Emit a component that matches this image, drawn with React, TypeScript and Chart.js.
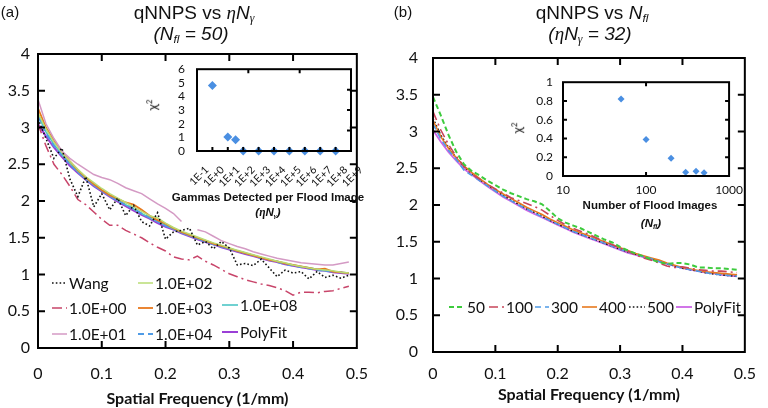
import React, { useEffect, useRef } from "react";
import { Chart, registerables } from "chart.js";
Chart.register(...registerables);

// ---------- data ----------
const freq = [0, 0.0125, 0.025, 0.0375, 0.05, 0.0625, 0.075, 0.0875, 0.1, 0.1125,
  0.125, 0.1375, 0.15, 0.1625, 0.175, 0.1875, 0.2, 0.2125, 0.225, 0.2375,
  0.25, 0.2625, 0.275, 0.2875, 0.3, 0.3125, 0.325, 0.3375, 0.35, 0.3625,
  0.375, 0.3875, 0.4, 0.4125, 0.425, 0.4375, 0.45, 0.4625, 0.475, 0.4875];

// panel (a)
const wang = [3.12, 2.85, 2.58, 2.72, 2.30, 2.06, 2.33, 1.92, 2.10, 1.88,
  2.04, 1.80, 1.94, 1.72, 1.66, 1.84, 1.48, 1.58, 1.60, 1.63,
  1.40, 1.45, 1.35, 1.45, 1.36, 1.13, 1.15, 1.12, 1.21, 1.09,
  0.97, 1.06, 1.02, 1.04, 0.94, 1.04, 0.96, 0.99, 0.95, 0.99];
const g1e0 = [3.05, 2.75, 2.50, 2.36, 2.20, 2.02, 1.95, 1.85, 1.75, 1.67,
  1.67, 1.60, 1.55, 1.50, 1.43, 1.37, 1.32, 1.24, 1.21, 1.20,
  1.25, 1.18, 1.13, 1.07, 1.01, 0.97, 0.93, 0.90, 0.87, 0.85,
  0.82, 0.78, 0.72, 0.76, 0.76, 0.75, 0.77, 0.78, 0.81, 0.84];
const g1e1 = [3.38, 3.05, 2.85, 2.68, 2.58, 2.50, 2.43, 2.36, 2.32, 2.29,
  2.24, 2.18, 2.14, 2.10, 2.03, 1.96, 1.90, 1.83, 1.72, null,
  1.61, 1.58, 1.52, 1.46, 1.42, 1.38, 1.35, 1.31, 1.28, 1.25,
  1.22, 1.20, 1.18, 1.16, 1.15, 1.14, 1.13, 1.13, 1.15, 1.17];
const g1e2 = [3.20, 2.98, 2.80, 2.66, 2.54, 2.43, 2.33, 2.25, 2.17, 2.10,
  2.04, 1.98, 1.92, 1.86, 1.80, 1.77, 1.70, 1.64, 1.59, 1.55,
  1.51, 1.47, 1.43, 1.40, 1.36, 1.33, 1.30, 1.27, 1.24, 1.21,
  1.18, 1.16, 1.13, 1.11, 1.09, 1.07, 1.06, 1.05, 1.03, 1.02];
const g1e3 = [3.26, 3.00, 2.82, 2.67, 2.54, 2.42, 2.32, 2.23, 2.15, 2.08,
  2.03, 1.98, 1.95, 1.88, 1.80, 1.74, 1.69, 1.63, 1.58, 1.54,
  1.50, 1.46, 1.42, 1.39, 1.36, 1.32, 1.29, 1.26, 1.23, 1.20,
  1.18, 1.15, 1.13, 1.11, 1.09, 1.07, 1.08, 1.04, 1.03, 1.02];
const g1e4 = [3.15, 2.92, 2.75, 2.62, 2.50, 2.39, 2.30, 2.21, 2.14, 2.07,
  2.00, 1.95, 1.90, 1.83, 1.78, 1.72, 1.66, 1.62, 1.57, 1.53,
  1.49, 1.45, 1.41, 1.38, 1.35, 1.32, 1.29, 1.26, 1.22, 1.20,
  1.17, 1.14, 1.12, 1.10, 1.08, 1.06, 1.05, 1.04, 1.03, 1.02];
const g1e8 = [3.17, 2.94, 2.77, 2.63, 2.51, 2.40, 2.30, 2.22, 2.14, 2.07,
  2.01, 1.95, 1.89, 1.83, 1.77, 1.72, 1.67, 1.62, 1.57, 1.53,
  1.49, 1.45, 1.42, 1.38, 1.35, 1.32, 1.29, 1.26, 1.23, 1.20,
  1.18, 1.15, 1.13, 1.11, 1.09, 1.07, 1.05, 1.04, 1.03, 1.02];
const polyA = [3.05, 2.88, 2.73, 2.60, 2.48, 2.38, 2.29, 2.20, 2.13, 2.06,
  1.99, 1.93, 1.87, 1.81, 1.76, 1.70, 1.65, 1.61, 1.56, 1.52,
  1.48, 1.44, 1.41, 1.37, 1.34, 1.31, 1.28, 1.25, 1.22, 1.19,
  1.17, 1.14, 1.12, 1.10, 1.08, 1.06, 1.05, 1.03, 1.02, 1.01];

// panel (b)
const n50 = [3.47, 3.22, 2.95, 2.72, 2.55, 2.46, 2.40, 2.33, 2.27, 2.21,
  2.16, 2.12, 2.08, 2.05, 2.01, 1.92, 1.82, 1.76, 1.72, 1.68,
  1.63, 1.58, 1.53, 1.49, 1.43, 1.38, 1.34, 1.30, 1.26, 1.22,
  1.20, 1.21, 1.21, 1.19, 1.15, 1.15, 1.14, 1.14, 1.13, 1.12];
const n100 = [3.27, 3.02, 2.82, 2.66, 2.52, 2.42, 2.35, 2.28, 2.22, 2.16,
  2.10, 2.06, 2.02, 1.98, 1.93, 1.86, 1.79, 1.73, 1.68, 1.64,
  1.60, 1.55, 1.50, 1.46, 1.41, 1.37, 1.32, 1.28, 1.25, 1.21,
  1.17, 1.15, 1.16, 1.14, 1.12, 1.11, 1.10, 1.10, 1.09, 1.08];
const n300 = [3.10, 2.90, 2.74, 2.62, 2.47, 2.40, 2.33, 2.26, 2.19, 2.12,
  2.06, 2.00, 1.95, 1.89, 1.84, 1.79, 1.74, 1.69, 1.64, 1.60,
  1.56, 1.52, 1.48, 1.44, 1.40, 1.36, 1.33, 1.30, 1.27, 1.23,
  1.20, 1.17, 1.14, 1.12, 1.10, 1.08, 1.06, 1.05, 1.04, 1.03];
const n400 = [3.15, 2.93, 2.77, 2.64, 2.53, 2.44, 2.36, 2.28, 2.21, 2.15,
  2.09, 2.03, 1.97, 1.92, 1.87, 1.81, 1.76, 1.71, 1.66, 1.62,
  1.58, 1.54, 1.50, 1.46, 1.42, 1.38, 1.34, 1.31, 1.28, 1.25,
  1.21, 1.18, 1.15, 1.13, 1.11, 1.09, 1.08, 1.07, 1.06, 1.05];
const n500 = [3.18, 2.95, 2.78, 2.64, 2.52, 2.43, 2.35, 2.27, 2.20, 2.13,
  2.07, 2.01, 1.95, 1.90, 1.85, 1.79, 1.74, 1.69, 1.64, 1.60,
  1.56, 1.52, 1.48, 1.44, 1.40, 1.36, 1.33, 1.30, 1.27, 1.24,
  1.20, 1.17, 1.14, 1.12, 1.10, 1.08, 1.06, 1.05, 1.04, 1.03];
const polyB = [3.02, 2.86, 2.72, 2.60, 2.49, 2.41, 2.33, 2.25, 2.18, 2.11,
  2.05, 1.99, 1.93, 1.88, 1.83, 1.78, 1.73, 1.68, 1.63, 1.59,
  1.55, 1.51, 1.47, 1.43, 1.39, 1.35, 1.32, 1.29, 1.26, 1.23,
  1.20, 1.17, 1.14, 1.12, 1.10, 1.08, 1.07, 1.05, 1.04, 1.03];

// inset (a): chi^2 vs gammas per flood image
const gammaCounts = [1, 10, 32, 100, 1e3, 1e4, 1e5, 1e6, 1e7, 1e8];
const gammaChi2 = [4.8, 1.02, 0.82, 0, 0, 0, 0, 0, 0, 0];
const gammaTickValues = [0.1, 1, 10, 100, 1e3, 1e4, 1e5, 1e6, 1e7, 1e8, 1e9];
const gammaTickLabels = ["1E-1", "1E+0", "1E+1", "1E+2", "1E+3", "1E+4", "1E+5", "1E+6", "1E+7", "1E+8", "1E+9"];
const chi2TicksA = [0, 1, 2, 3, 4, 5, 6];

// inset (b): chi^2 vs number of flood images
const floodCounts = [50, 100, 200, 300, 400, 500];
const floodChi2 = [0.82, 0.39, 0.19, 0.04, 0.05, 0.035];
const floodTickValues = [10, 100, 1000];
const chi2TicksB = [0, 0.2, 0.4, 0.6, 0.8, 1];

// ---------- styling ----------
const TF = "Lato, 'Open Sans', sans-serif";
const ARIAL = "'Liberation Sans', Arial, sans-serif";
const SERIF = "'Liberation Serif', 'DejaVu Serif', serif";
const INK = "#111111";

const pts = (ys: (number | null)[]) => freq.map((x, i) => ({ x, y: ys[i] }));
const fmt = (v: number) => String(Number(Number(v).toFixed(1)));

type Side = { vals?: number[]; fracs?: number[] };
type FrameCfg = { lw: number; len: number; bottom?: Side; top?: Side; left?: Side; right?: Side };

function framePlugin(cfg: FrameCfg) {
  return {
    id: "frame",
    afterDatasetsDraw(chart: any) {
      const { ctx, chartArea: a, scales } = chart;
      const xs = scales.x, ys = scales.y;
      const xPos = (s?: Side) => s ? [
        ...(s.vals || []).map((v) => xs.getPixelForValue(v)),
        ...(s.fracs || []).map((f) => a.left + f * (a.right - a.left)),
      ] : [];
      const yPos = (s?: Side) => s ? [
        ...(s.vals || []).map((v) => ys.getPixelForValue(v)),
        ...(s.fracs || []).map((f) => a.bottom - f * (a.bottom - a.top)),
      ] : [];
      ctx.save();
      ctx.strokeStyle = "#000";
      ctx.lineWidth = cfg.lw;
      ctx.setLineDash([]);
      ctx.strokeRect(a.left, a.top, a.right - a.left, a.bottom - a.top);
      ctx.beginPath();
      for (const x of xPos(cfg.bottom)) { ctx.moveTo(x, a.bottom); ctx.lineTo(x, a.bottom - cfg.len); }
      for (const x of xPos(cfg.top)) { ctx.moveTo(x, a.top); ctx.lineTo(x, a.top + cfg.len); }
      for (const y of yPos(cfg.left)) { ctx.moveTo(a.left, y); ctx.lineTo(a.left + cfg.len, y); }
      for (const y of yPos(cfg.right)) { ctx.moveTo(a.right, y); ctx.lineTo(a.right - cfg.len, y); }
      ctx.stroke();
      ctx.restore();
    },
  };
}

// rotated (-45 deg) labels under a log axis
function rotatedLabelsPlugin(values: number[], labels: string[], dx: number, dy: number, font: string) {
  return {
    id: "rotLabels",
    afterDraw(chart: any) {
      const { ctx, chartArea: a, scales } = chart;
      ctx.save();
      ctx.font = font;
      ctx.fillStyle = INK;
      ctx.textAlign = "right";
      ctx.textBaseline = "middle";
      values.forEach((v, i) => {
        const px = scales.x.getPixelForValue(v);
        ctx.save();
        ctx.translate(px + dx, a.bottom + dy);
        ctx.rotate(-Math.PI / 4);
        ctx.fillText(labels[i], 0, 0);
        ctx.restore();
      });
      ctx.restore();
    },
  };
}

type LegendItem = { ds: number; x: number; y: number; len: number };
function legendPlugin(items: LegendItem[]) {
  return {
    id: "customLegend",
    afterDraw(chart: any) {
      const ctx = chart.ctx;
      ctx.save();
      for (const it of items) {
        const ds = chart.data.datasets[it.ds];
        ctx.strokeStyle = ds.borderColor;
        ctx.lineWidth = ds.borderWidth;
        ctx.setLineDash(ds.borderDash || []);
        ctx.beginPath();
        ctx.moveTo(it.x, it.y);
        ctx.lineTo(it.x + it.len, it.y);
        ctx.stroke();
        ctx.setLineDash([]);
        ctx.fillStyle = INK;
        ctx.font = `15.5px ${TF}`;
        ctx.textBaseline = "middle";
        ctx.textAlign = "left";
        ctx.fillText(ds.label, it.x + it.len + 2, it.y + 1);
      }
      ctx.restore();
    },
  };
}

function line(label: string, ys: (number | null)[], color: string, width: number, dash: number[] = []) {
  return {
    label, data: pts(ys), borderColor: color, backgroundColor: color, borderWidth: width,
    borderDash: dash, pointRadius: 0, fill: false, spanGaps: false, tension: 0,
  };
}

function mainConfig(datasets: any[], o: {
  yw: number; xh: number; padTop: number; padRight: number; yPad: number; xPad: number; titlePad: number; legend: LegendItem[];
}) {
  return {
    type: "line",
    data: { datasets },
    options: {
      animation: false, responsive: false, devicePixelRatio: 1,
      layout: { padding: { top: o.padTop, right: o.padRight, left: 0, bottom: 0 } },
      plugins: { legend: { display: false }, tooltip: { enabled: false }, title: { display: false } },
      scales: {
        x: {
          type: "linear", min: 0, max: 0.5,
          grid: { display: false, drawTicks: false }, border: { display: false },
          ticks: { stepSize: 0.1, padding: o.xPad, color: INK, maxRotation: 0, font: { family: TF, size: 16 }, callback: (v: number) => fmt(v) },
          title: { display: true, text: "Spatial Frequency (1/mm)", color: INK, font: { family: TF, size: 16, weight: "bold" }, padding: { top: 0, bottom: o.titlePad } },
          afterFit: (s: any) => { s.height = o.xh; },
        },
        y: {
          min: 0, max: 4,
          grid: { display: false, drawTicks: false }, border: { display: false },
          ticks: { stepSize: 0.5, padding: o.yPad, color: INK, font: { family: TF, size: 16 }, callback: (v: number) => fmt(v) },
          afterFit: (s: any) => { s.width = o.yw; },
        },
      },
    },
    plugins: [
      framePlugin({ lw: 2, len: 7, bottom: { vals: [0.1, 0.2, 0.3, 0.4] }, top: { vals: [0.1, 0.2, 0.3, 0.4] }, left: { vals: [0.5, 1, 1.5, 2, 2.5, 3, 3.5] }, right: { vals: [0.5, 1, 1.5, 2, 2.5, 3, 3.5] } }),
      legendPlugin(o.legend),
    ],
  };
}

function cfgA() {
  const ds = [
    line("Wang", wang, "#111111", 1.6, [1.6, 2.2]),
    line("1.0E+00", g1e0, "#C8456A", 1.5, [10, 4, 2, 4]),
    line("1.0E+01", g1e1, "#D49AC4", 1.5),
    line("1.0E+02", g1e2, "#B9DC74", 1.5),
    line("1.0E+03", g1e3, "#E8791E", 1.8),
    line("1.0E+04", g1e4, "#4F9BE6", 1.8, [6, 4]),
    line("1.0E+08", g1e8, "#4CC6C6", 1.6),
    line("PolyFit", polyA, "#9A3FD6", 2),
  ];
  return mainConfig(ds, {
    yw: 38, xh: 60, padTop: 54, padRight: 11, yPad: 8, xPad: 16, titlePad: 0,
    legend: [
      { ds: 0, x: 52, y: 283, len: 15 },
      { ds: 1, x: 52, y: 308, len: 15 },
      { ds: 2, x: 52, y: 334, len: 15 },
      { ds: 3, x: 138, y: 283, len: 15 },
      { ds: 4, x: 138, y: 308, len: 15 },
      { ds: 5, x: 138, y: 334, len: 15 },
      { ds: 6, x: 222, y: 305, len: 16 },
      { ds: 7, x: 222, y: 332, len: 16 },
    ],
  });
}

function cfgB() {
  const ds = [
    line("50", n50, "#3DCB3D", 2, [5, 3]),
    line("100", n100, "#C8455A", 1.6, [9, 4, 2, 4]),
    line("300", n300, "#4F9BE6", 1.6, [6, 4]),
    line("400", n400, "#E8791E", 1.6),
    line("500", n500, "#111111", 1.6, [1.6, 2.2]),
    line("PolyFit", polyB, "#CC66E6", 1.8),
  ];
  return mainConfig(ds, {
    yw: 49, xh: 56, padTop: 58, padRight: 11, yPad: 15, xPad: 12, titlePad: 4,
    legend: [
      { ds: 0, x: 449 - 384, y: 307, len: 16 },
      { ds: 1, x: 489 - 384, y: 307, len: 15 },
      { ds: 2, x: 535 - 384, y: 307, len: 14 },
      { ds: 3, x: 582 - 384, y: 307, len: 15 },
      { ds: 4, x: 629 - 384, y: 307, len: 16 },
      { ds: 5, x: 676 - 384, y: 307, len: 16 },
    ],
  });
}

function insetCommon() {
  return {
    animation: false, responsive: false, devicePixelRatio: 1,
    plugins: { legend: { display: false }, tooltip: { enabled: false }, title: { display: false } },
  };
}

function cfgInsetA() {
  return {
    type: "scatter",
    data: {
      datasets: [{
        data: gammaCounts.map((x, i) => ({ x, y: gammaChi2[i] })),
        pointStyle: "rectRot", pointRadius: 4.5, backgroundColor: "#4A8FE2", borderColor: "#4A8FE2", borderWidth: 0, clip: false,
      }],
    },
    options: {
      ...insetCommon(),
      layout: { padding: { top: 11, right: 19, left: 0, bottom: 0 } },
      scales: {
        x: {
          type: "logarithmic", min: 0.1, max: 1e9,
          afterBuildTicks: (s: any) => { s.ticks = gammaTickValues.map((v) => ({ value: v })); },
          grid: { display: false, drawTicks: false }, border: { display: false },
          ticks: { display: false },
          afterFit: (s: any) => { s.height = 49; },
        },
        y: {
          min: 0, max: 6,
          afterBuildTicks: (s: any) => { s.ticks = chi2TicksA.map((v) => ({ value: v })); },
          grid: { display: false, drawTicks: false }, border: { display: false },
          ticks: { autoSkip: false, padding: 12, color: INK, font: { family: TF, size: 12 } },
          afterFit: (s: any) => { s.width = 47; },
        },
      },
    },
    plugins: [
      framePlugin({ lw: 2, len: 4, bottom: { vals: gammaTickValues }, top: { fracs: [1 / 3, 2 / 3] }, right: { fracs: [0.25, 0.5, 0.75] } }),
      rotatedLabelsPlugin(gammaTickValues, gammaTickLabels, 10, 17, `10.5px ${TF}`),
    ],
  };
}

function cfgInsetB() {
  return {
    type: "scatter",
    data: {
      datasets: [{
        data: floodCounts.map((x, i) => ({ x, y: floodChi2[i] })),
        pointStyle: "rectRot", pointRadius: 3.5, backgroundColor: "#4A8FE2", borderColor: "#4A8FE2", borderWidth: 0, clip: false,
      }],
    },
    options: {
      ...insetCommon(),
      layout: { padding: { top: 10, right: 15, left: 0, bottom: 0 } },
      scales: {
        x: {
          type: "logarithmic", min: 10, max: 1000,
          afterBuildTicks: (s: any) => { s.ticks = floodTickValues.map((v) => ({ value: v })); },
          grid: { display: false, drawTicks: false }, border: { display: false },
          ticks: { autoSkip: false, maxRotation: 0, padding: 7, color: INK, font: { family: TF, size: 12 }, callback: (v: any) => String(v) },
          afterFit: (s: any) => { s.height = 24; },
        },
        y: {
          min: 0, max: 1,
          afterBuildTicks: (s: any) => { s.ticks = chi2TicksB.map((v) => ({ value: v })); },
          grid: { display: false, drawTicks: false }, border: { display: false },
          ticks: { autoSkip: false, padding: 10, color: INK, font: { family: TF, size: 12 }, callback: (v: number) => fmt(v) },
          afterFit: (s: any) => { s.width = 43; },
        },
      },
    },
    plugins: [framePlugin({ lw: 2, len: 4, left: { vals: [0.2, 0.4, 0.6, 0.8] }, right: { vals: [0.2, 0.4, 0.6, 0.8] }, bottom: { vals: [100] }, top: { vals: [100] } })],
  };
}

// ---------- text helpers ----------
const Sub = ({ children }: { children: any }) => (
  <span style={{ fontSize: "0.62em", position: "relative", top: "0.32em" }}>{children}</span>
);

function Txt({ cx, cy, size, children, style }: { cx: number; cy: number; size: number; children: any; style?: any }) {
  return (
    <div style={{
      position: "absolute", left: cx - 200, width: 400, top: cy - size * 0.6, height: size * 1.2,
      lineHeight: `${size * 1.2}px`, fontSize: size, textAlign: "center", whiteSpace: "nowrap", color: INK, ...style,
    }}>{children}</div>
  );
}

export default function App() {
  const rA = useRef<HTMLCanvasElement>(null);
  const rB = useRef<HTMLCanvasElement>(null);
  const rIA = useRef<HTMLCanvasElement>(null);
  const rIB = useRef<HTMLCanvasElement>(null);

  useEffect(() => {
    const charts = [
      new Chart(rA.current as HTMLCanvasElement, cfgA() as any),
      new Chart(rB.current as HTMLCanvasElement, cfgB() as any),
      new Chart(rIA.current as HTMLCanvasElement, cfgInsetA() as any),
      new Chart(rIB.current as HTMLCanvasElement, cfgInsetB() as any),
    ];
    return () => charts.forEach((c) => c.destroy());
  }, []);

  const abs = (l: number, t: number) => ({ position: "absolute" as const, left: l, top: t });

  return (
    <div style={{ position: "fixed", left: 0, top: 0, width: 768, height: 408, background: "#fff", overflow: "hidden", fontFamily: ARIAL }}>
      <canvas ref={rA} width={384} height={408} style={abs(0, 0)} />
      <canvas ref={rB} width={384} height={408} style={abs(384, 0)} />
      <canvas ref={rIA} width={220} height={150} style={abs(150, 50)} />
      <canvas ref={rIB} width={230} height={135} style={abs(520, 65)} />

      {/* panel labels and titles */}
      <Txt cx={10} cy={12} size={15} style={{ fontFamily: ARIAL }}>(a)</Txt>
      <Txt cx={403} cy={12} size={15} style={{ fontFamily: ARIAL }}>(b)</Txt>

      <Txt cx={194} cy={13} size={19} style={{ fontFamily: ARIAL }}>
        qNNPS vs <i style={{ fontFamily: SERIF }}>η</i><i>N</i><Sub><i style={{ fontFamily: SERIF }}>γ</i></Sub>
      </Txt>
      <Txt cx={191} cy={34} size={19} style={{ fontFamily: ARIAL, fontStyle: "italic" }}>
        (N<Sub>fl</Sub> = 50)
      </Txt>
      <Txt cx={592} cy={13} size={19} style={{ fontFamily: ARIAL }}>
        qNNPS vs <i>N</i><Sub><i>fl</i></Sub>
      </Txt>
      <Txt cx={590} cy={34} size={19} style={{ fontFamily: ARIAL, fontStyle: "italic" }}>
        (<span style={{ fontFamily: SERIF }}>η</span>N<Sub><span style={{ fontFamily: SERIF }}>γ</span></Sub> = 32)
      </Txt>

      {/* inset (a) texts */}
      <Txt cx={268} cy={198} size={11.5} style={{ fontFamily: ARIAL, fontWeight: "bold" }}>Gammas Detected per Flood Image</Txt>
      <Txt cx={268} cy={213} size={11.5} style={{ fontFamily: ARIAL, fontWeight: "bold", fontStyle: "italic" }}>
        (<span style={{ fontFamily: SERIF }}>η</span>N<Sub><span style={{ fontFamily: SERIF }}>γ</span></Sub>)
      </Txt>
      <Txt cx={150} cy={105} size={13} style={{ fontFamily: TF, transform: "rotate(-90deg)" }}>
        χ<sup style={{ fontSize: "0.6em" }}>2</sup>
      </Txt>

      {/* inset (b) texts */}
      <Txt cx={650} cy={206} size={11.5} style={{ fontFamily: ARIAL, fontWeight: "bold" }}>Number of Flood Images</Txt>
      <Txt cx={651} cy={224} size={11.5} style={{ fontFamily: ARIAL, fontWeight: "bold", fontStyle: "italic" }}>
        (N<Sub>fl</Sub>)
      </Txt>
      <Txt cx={515} cy={128} size={13} style={{ fontFamily: TF, transform: "rotate(-90deg)" }}>
        χ<sup style={{ fontSize: "0.6em" }}>2</sup>
      </Txt>
    </div>
  );
}
